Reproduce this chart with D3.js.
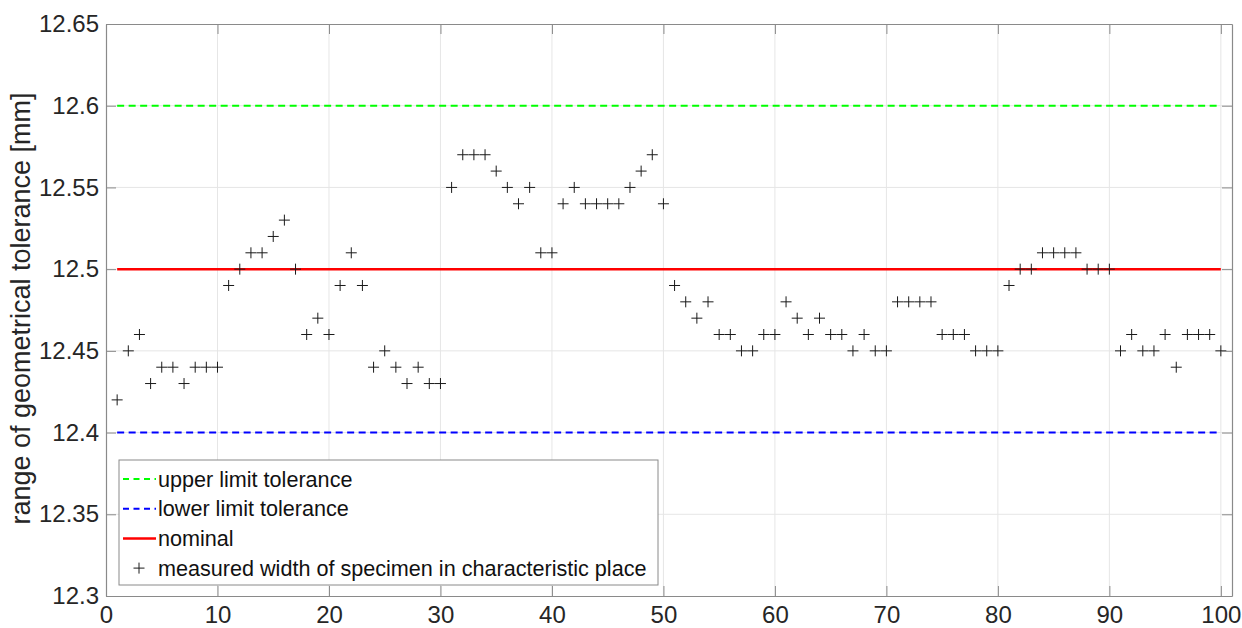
<!DOCTYPE html>
<html>
<head>
<meta charset="utf-8">
<script src="https://cdn.jsdelivr.net/npm/d3@7/dist/d3.min.js"></script>
<style>
  html, body { margin: 0; padding: 0; background: #fff; }
  svg { display: block; font-family: "Liberation Sans", Arial, sans-serif; }
</style>
</head>
<body>
<svg id="chart" width="1242" height="628"></svg>
<script>
// ---- data ----
const specimens = d3.range(1, 101);
const measured = [
  12.42, 12.45, 12.46, 12.43, 12.44, 12.44, 12.43, 12.44, 12.44, 12.44,
  12.49, 12.50, 12.51, 12.51, 12.52, 12.53, 12.50, 12.46, 12.47, 12.46,
  12.49, 12.51, 12.49, 12.44, 12.45, 12.44, 12.43, 12.44, 12.43, 12.43,
  12.55, 12.57, 12.57, 12.57, 12.56, 12.55, 12.54, 12.55, 12.51, 12.51,
  12.54, 12.55, 12.54, 12.54, 12.54, 12.54, 12.55, 12.56, 12.57, 12.54,
  12.49, 12.48, 12.47, 12.48, 12.46, 12.46, 12.45, 12.45, 12.46, 12.46,
  12.48, 12.47, 12.46, 12.47, 12.46, 12.46, 12.45, 12.46, 12.45, 12.45,
  12.48, 12.48, 12.48, 12.48, 12.46, 12.46, 12.46, 12.45, 12.45, 12.45,
  12.49, 12.50, 12.50, 12.51, 12.51, 12.51, 12.51, 12.50, 12.50, 12.50,
  12.45, 12.46, 12.45, 12.45, 12.46, 12.44, 12.46, 12.46, 12.46, 12.45
];
const upperLimit = 12.6;
const lowerLimit = 12.4;
const nominal = 12.5;
const xTicks = [0, 10, 20, 30, 40, 50, 60, 70, 80, 90, 100];
const yTicks = [12.3, 12.35, 12.4, 12.45, 12.5, 12.55, 12.6, 12.65];
const legendLabels = ["upper limit tolerance", "lower limit tolerance", "nominal", "measured width of specimen in characteristic place"];
const yLabel = "range of geometrical tolerance [mm]";

(function draw() {
  const svg = d3.select("#chart");
  const pL = 106, pT = 24, pR = 1232, pB = 596;
  const x = d3.scaleLinear().domain([0, 101]).range([pL, pR]);
  const y = d3.scaleLinear().domain([12.3, 12.65]).range([pB, pT]);

  const axisColor = "#8a8a8a";
  const textColor = "#262626";

  // grid
  const grid = svg.append("g");
  grid.selectAll("line.gx").data(xTicks.filter(d => d > 0)).enter().append("line")
    .attr("x1", d => x(d)).attr("x2", d => x(d)).attr("y1", pT).attr("y2", pB)
    .attr("stroke", "#e6e6e6").attr("stroke-width", 1);
  grid.selectAll("line.gy").data(yTicks.filter(d => d > 12.3 && d < 12.65)).enter().append("line")
    .attr("x1", pL).attr("x2", pR).attr("y1", d => y(d)).attr("y2", d => y(d))
    .attr("stroke", "#e6e6e6").attr("stroke-width", 1);

  // reference lines
  const refs = [
    { v: upperLimit, color: "#00ff00", dash: "7,4.5", w: 2 },
    { v: lowerLimit, color: "#0000ff", dash: "7,4.5", w: 2 },
    { v: nominal, color: "#ff0000", dash: null, w: 2.5 }
  ];
  const lineGen = d3.line().x(d => x(d[0])).y(d => y(d[1]));
  refs.forEach(r => {
    svg.append("path")
      .attr("d", lineGen([[specimens[0], r.v], [specimens[specimens.length - 1], r.v]]))
      .attr("stroke", r.color).attr("stroke-width", r.w).attr("fill", "none")
      .attr("stroke-dasharray", r.dash);
  });

  // markers
  const plus = (cx, cy, s) => `M${cx - s},${cy}H${cx + s}M${cx},${cy - s}V${cy + s}`;
  svg.append("g").selectAll("path").data(measured).enter().append("path")
    .attr("d", (d, i) => plus(x(specimens[i]), y(d), 5.5))
    .attr("stroke", "#1a1a1a").attr("stroke-width", 1).attr("fill", "none");

  // axes (box with inward ticks)
  const tickLen = 10;
  const xAxisB = d3.axisBottom(x).tickValues(xTicks).tickSize(-tickLen).tickSizeOuter(0).tickPadding(10).tickFormat(d3.format("d"));
  const xAxisT = d3.axisTop(x).tickValues(xTicks).tickSize(-tickLen).tickSizeOuter(0).tickFormat("");
  const yAxisL = d3.axisLeft(y).tickValues(yTicks).tickSize(-tickLen).tickSizeOuter(0).tickPadding(7).tickFormat(d => String(+d.toFixed(2)));
  const yAxisR = d3.axisRight(y).tickValues(yTicks).tickSize(-tickLen).tickSizeOuter(0).tickFormat("");

  function styleAxis(g) {
    g.select(".domain").attr("stroke", axisColor).attr("stroke-width", 1.2);
    g.selectAll(".tick line").attr("stroke", axisColor).attr("stroke-width", 1);
    g.selectAll(".tick text").attr("fill", textColor).style("font-size", "24px").style("font-family", '"Liberation Sans", Arial, sans-serif');
  }
  svg.append("g").attr("transform", `translate(0,${pB})`).call(xAxisB).call(styleAxis);
  svg.append("g").attr("transform", `translate(0,${pT})`).call(xAxisT).call(styleAxis);
  svg.append("g").attr("transform", `translate(${pL},0)`).call(yAxisL).call(styleAxis);
  svg.append("g").attr("transform", `translate(${pR},0)`).call(yAxisR).call(styleAxis);

  // y label
  svg.append("text")
    .attr("transform", `translate(30,${(92 + 525) / 2}) rotate(-90)`)
    .attr("text-anchor", "middle")
    .attr("fill", textColor)
    .style("font-size", "27px")
    .text(yLabel);

  // legend
  const lg = svg.append("g");
  const lgX = 119, lgY = 460, lgW = 539, lgH = 125;
  lg.append("rect").attr("x", lgX).attr("y", lgY).attr("width", lgW).attr("height", lgH)
    .attr("fill", "#fff").attr("stroke", axisColor).attr("stroke-width", 1);
  const rowY = i => lgY + 19 + i * 29.7;
  legendLabels.forEach((t, i) => {
    const cy = rowY(i);
    if (i < 3) {
      const r = refs[i];
      lg.append("line").attr("x1", lgX + 4).attr("x2", lgX + 37).attr("y1", cy).attr("y2", cy)
        .attr("stroke", r.color).attr("stroke-width", r.w).attr("stroke-dasharray", r.dash ? "6,4.5" : null);
    } else {
      lg.append("path").attr("d", plus(lgX + 20, cy, 5.5)).attr("stroke", "#1a1a1a").attr("stroke-width", 1);
    }
    lg.append("text").attr("x", lgX + 39).attr("y", cy).attr("dy", "0.35em")
      .attr("fill", "#111").style("font-size", "21.6px").text(t);
  });
})();
</script>
</body>
</html>
